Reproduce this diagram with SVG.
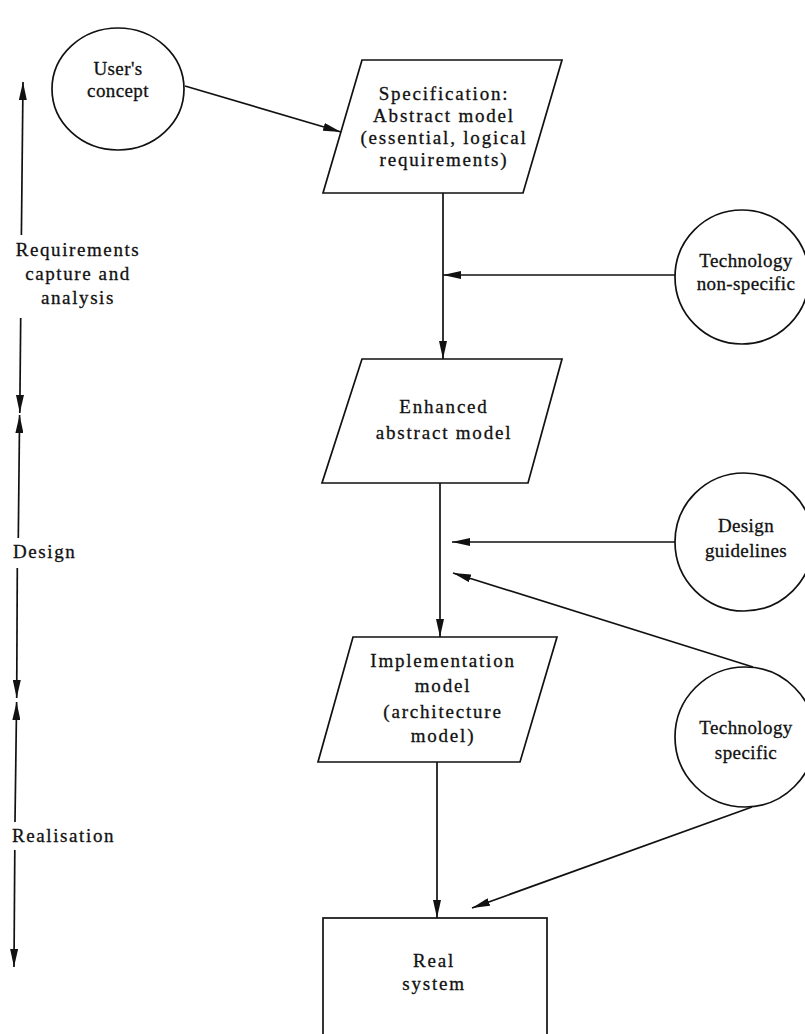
<svg xmlns="http://www.w3.org/2000/svg" width="805" height="1034" viewBox="0 0 805 1034">
  <style>
    .shape { fill: #fff; stroke: #111; stroke-width: 1.7; }
    .wire { fill: none; stroke: #111; stroke-width: 1.7; }
    text { font-family: "Liberation Serif", "Times New Roman", serif; font-size: 19px; fill: #111; stroke: #111; stroke-width: 0.3; }
    .box { letter-spacing: 1.8px; text-anchor: middle; }
    .ring { letter-spacing: 0.4px; text-anchor: middle; }
    .side { letter-spacing: 1.6px; }
  </style>
  <defs>
    <marker id="head" viewBox="0 0 18 8" markerWidth="18" markerHeight="8" refX="18" refY="4" orient="auto" markerUnits="userSpaceOnUse">
      <path d="M0,0 L18,4 L0,8 z" fill="#111"/>
    </marker>
  </defs>
  <rect width="805" height="1034" fill="#fff"/>

  <!-- phase scale on the left -->
  <g id="phase-scale">
    <line class="wire" x1="21.4" y1="235" x2="23" y2="82" marker-end="url(#head)"/>
    <line class="wire" x1="20.7" y1="318" x2="19.8" y2="413" marker-end="url(#head)"/>
    <line class="wire" x1="18.3" y1="538" x2="19.6" y2="415" marker-end="url(#head)"/>
    <line class="wire" x1="17.3" y1="568" x2="16.7" y2="698" marker-end="url(#head)"/>
    <line class="wire" x1="15" y1="822" x2="16.6" y2="702" marker-end="url(#head)"/>
    <line class="wire" x1="14.8" y1="850" x2="14" y2="967" marker-end="url(#head)"/>
    <text class="side" x="78" y="256" text-anchor="middle">Requirements</text>
    <text class="side" x="78" y="280" text-anchor="middle">capture and</text>
    <text class="side" x="78" y="304" text-anchor="middle">analysis</text>
    <text class="side" x="13" y="558">Design</text>
    <text class="side" x="12" y="842">Realisation</text>
  </g>

  <!-- connectors -->
  <g id="connectors">
    <line class="wire" x1="185" y1="86" x2="341" y2="132" marker-end="url(#head)"/>
    <line class="wire" x1="443" y1="193" x2="443" y2="359" marker-end="url(#head)"/>
    <line class="wire" x1="676" y1="275" x2="443" y2="275" marker-end="url(#head)"/>
    <line class="wire" x1="440" y1="483" x2="440" y2="637" marker-end="url(#head)"/>
    <line class="wire" x1="675" y1="542" x2="452" y2="542" marker-end="url(#head)"/>
    <line class="wire" x1="753" y1="667" x2="453" y2="573" marker-end="url(#head)"/>
    <line class="wire" x1="437" y1="762" x2="437" y2="918" marker-end="url(#head)"/>
    <line class="wire" x1="752" y1="807" x2="472" y2="908" marker-end="url(#head)"/>
  </g>

  <g id="users-concept">
    <ellipse class="shape" cx="118" cy="89" rx="66" ry="61"/>
    <text class="ring" x="118" y="75">User's</text>
    <text class="ring" x="118" y="97">concept</text>
  </g>

  <g id="specification">
    <polygon class="shape" points="362,60 562,60 523,193 323,193"/>
    <text class="box" x="444" y="100">Specification:</text>
    <text class="box" x="444" y="122">Abstract model</text>
    <text class="box" x="444" y="144">(essential, logical</text>
    <text class="box" x="444" y="166">requirements)</text>
  </g>

  <g id="technology-non-specific">
    <circle class="shape" cx="742" cy="277" r="67"/>
    <text class="ring" x="746" y="267">Technology</text>
    <text class="ring" x="746" y="290">non-specific</text>
  </g>

  <g id="enhanced-model">
    <polygon class="shape" points="362,359 562,359 528,483 322,483"/>
    <text class="box" x="444" y="413">Enhanced</text>
    <text class="box" x="444" y="439">abstract model</text>
  </g>

  <g id="design-guidelines">
    <circle class="shape" cx="744" cy="542" r="69"/>
    <text class="ring" x="746" y="532">Design</text>
    <text class="ring" x="746" y="557">guidelines</text>
  </g>

  <g id="implementation-model">
    <polygon class="shape" points="353,637 557,637 520,762 318,762"/>
    <text class="box" x="443" y="667">Implementation</text>
    <text class="box" x="443" y="692">model</text>
    <text class="box" x="443" y="718">(architecture</text>
    <text class="box" x="443" y="742">model)</text>
  </g>

  <g id="technology-specific">
    <circle class="shape" cx="745" cy="737" r="70"/>
    <text class="ring" x="746" y="734">Technology</text>
    <text class="ring" x="746" y="759">specific</text>
  </g>

  <g id="real-system">
    <rect class="shape" x="323" y="918" width="224" height="130"/>
    <text class="box" x="434" y="967">Real</text>
    <text class="box" x="434" y="990">system</text>
  </g>
</svg>
